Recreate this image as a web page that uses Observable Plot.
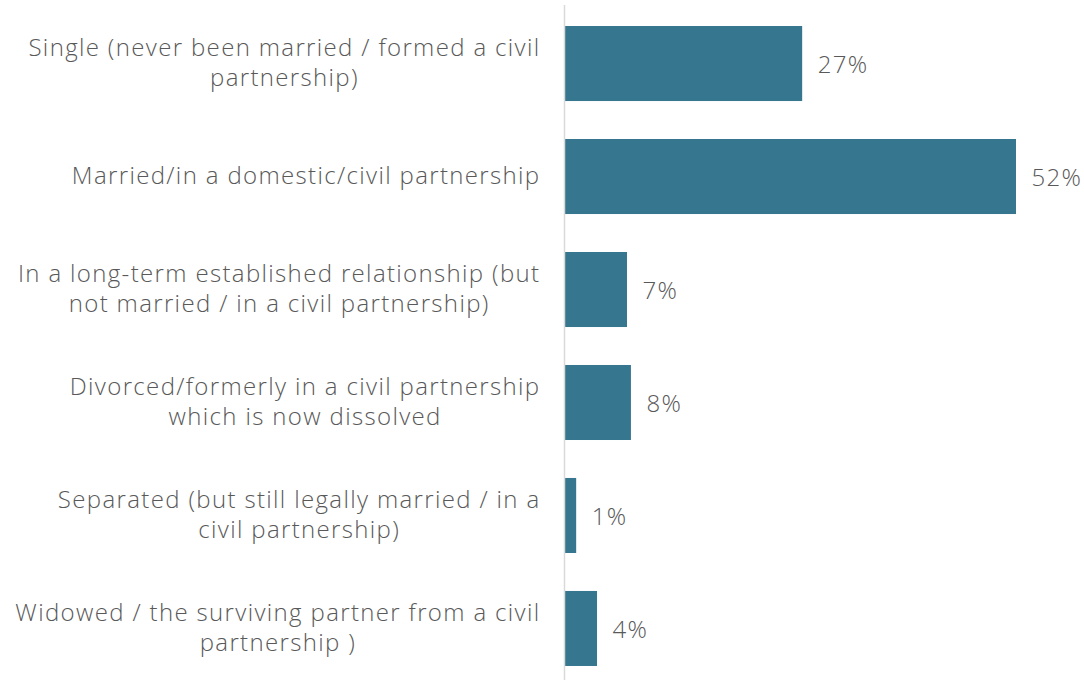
<!DOCTYPE html>
<html>
<head>
<meta charset="utf-8">
<script src="https://cdn.jsdelivr.net/npm/d3@7"></script>
<script src="https://cdn.jsdelivr.net/npm/@observablehq/plot@0.6"></script>
<style>
  html, body { margin: 0; padding: 0; background: #fff; }
  #chart { width: 1084px; height: 680px; }
</style>
</head>
<body>
<div id="chart"></div>
<script>
const categories = [
  "Single (never been married / formed a civil\npartnership)",
  "Married/in a domestic/civil partnership",
  "In a long-term established relationship (but\nnot married / in a civil partnership)",
  "Divorced/formerly in a civil partnership\nwhich is now dissolved",
  "Separated (but still legally married / in a\ncivil partnership)",
  "Widowed / the surviving partner from a civil\npartnership )"
];
const values = [27.4, 52, 7.25, 7.7, 1.4, 3.8];
const valueLabels = ["27%", "52%", "7%", "8%", "1%", "4%"];

const data = categories.map((c, i) => ({category: c, value: values[i], label: valueLabels[i]}));

const labelFont = "'Open Sans'";
const labelSize = 24;
const labelWeight = 300;
const spacing = 1.35;
const ctx = document.createElement("canvas").getContext("2d");
ctx.font = `${labelWeight} ${labelSize}px ${labelFont}`;
const lineWidth = l => ctx.measureText(l).width + spacing * l.length;
const blockWidth = c => Math.max(...c.split("\n").map(lineWidth));

const chart = Plot.plot({
  width: 1084,
  height: 680,
  marginLeft: 564,
  marginRight: 68,
  marginTop: 12,
  marginBottom: 0,
  style: {fontFamily: labelFont + ", sans-serif", background: "#fff", letterSpacing: spacing + "px"},
  x: {domain: [0, 52], axis: null},
  y: {domain: categories, axis: null, paddingInner: 0.336, paddingOuter: 0.124, round: false},
  marks: [
    Plot.barX(data, {y: "category", x: "value", fill: "#37768F"}),
    Plot.ruleX([0], {stroke: "#d9d9d9", strokeWidth: 1.5, insetTop: -7}),
    ...data.map(d => Plot.text([d], {y: "category", x: 0, text: "category", textAnchor: "middle",
      dx: -24 - blockWidth(d.category) / 2, dy: -2.5,
      fontSize: labelSize, fontWeight: labelWeight, fill: "#595959", lineHeight: 1.25})),
    Plot.text(data, {y: "category", x: "value", text: "label", textAnchor: "start", dx: 15, dy: 1,
      fontSize: 24, fontWeight: labelWeight, fill: "#595959"})
  ]
});
document.getElementById("chart").appendChild(chart);
</script>
</body>
</html>
